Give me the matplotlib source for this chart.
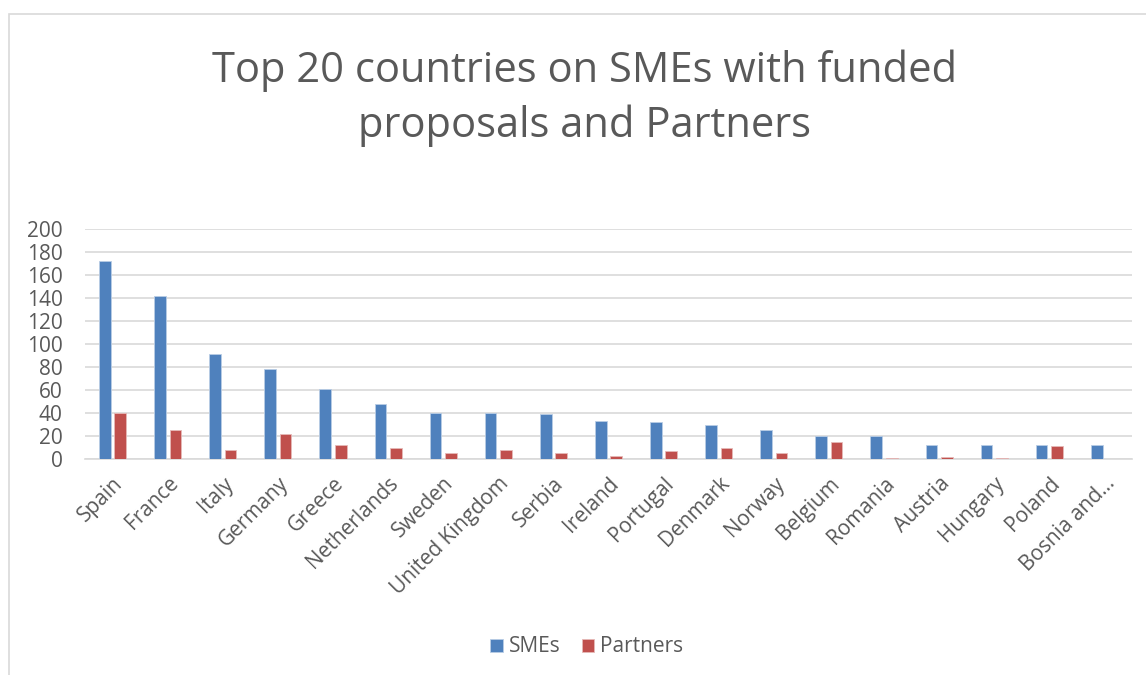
import matplotlib
matplotlib.use("Agg")
import matplotlib.pyplot as plt
import numpy as np
from matplotlib.patches import Rectangle

countries = ["Spain", "France", "Italy", "Germany", "Greece", "Netherlands", "Sweden",
             "United Kingdom", "Serbia", "Ireland", "Portugal", "Denmark", "Norway",
             "Belgium", "Romania", "Austria", "Hungary", "Poland", "Bosnia and..."]
smes = [172, 142, 91, 78, 61, 48, 40, 40, 39, 33, 32, 30, 25, 20, 20, 12, 12, 12, 12]
partners = [40, 25, 8, 22, 12, 10, 5, 8, 5, 3, 7, 10, 5, 15, 1, 2, 1, 11, 0]
yticks = [0, 20, 40, 60, 80, 100, 120, 140, 160, 180, 200]
title = "Top 20 countries on SMEs with funded\nproposals and Partners"

plt.rcParams['font.family'] = ['Open Sans', 'DejaVu Sans']
txt = "#595959"
W, H = 1146, 675
fig = plt.figure(figsize=(W / 100, H / 100), dpi=100)

# chart border
fig.patches.append(Rectangle((9 / W, -0.1), 1.2, 1 - 13.5 / H + 0.1, transform=fig.transFigure,
                             fill=False, edgecolor="#D9D9D9", linewidth=1.2))

ax = fig.add_axes([85 / W, 1 - 459 / H, (1132 - 85) / W, (459 - 229) / H])
x = np.arange(len(countries))
bw = 0.212
gap = 0.067
ax.bar(x - (bw + gap) / 2, smes, bw, color="#4F81BD", edgecolor="#B9CDE5", linewidth=0.6,
       label="SMEs", zorder=3)
ax.bar(x + (bw + gap) / 2, partners, bw, color="#C0504D", edgecolor="#E6B9B8", linewidth=0.6,
       label="Partners", zorder=3)

ax.set_xlim(-0.5, len(countries) - 0.5)
ax.set_ylim(0, 200)
ax.set_yticks(yticks)
ax.set_yticklabels([str(v) for v in yticks], fontsize=15, color=txt)
ax.yaxis.grid(True, color="#D9D9D9", linewidth=1.2, zorder=0)
ax.set_xticks(x)
ax.set_xticklabels(countries, rotation=45, ha="right", rotation_mode="anchor",
                   fontsize=15, color=txt)
ax.tick_params(axis="both", length=0)
ax.tick_params(axis="y", pad=16)
ax.tick_params(axis="x", pad=10)
for s in ["top", "right", "left"]:
    ax.spines[s].set_visible(False)
ax.spines["bottom"].set_color("#D9D9D9")
ax.spines["bottom"].set_linewidth(1.2)

fig.text(585 / W, 1 - 98 / H, title, ha="center", va="center", fontsize=30, color=txt,
         linespacing=1.4)

fig.legend(loc="center", bbox_to_anchor=(587 / W, 1 - 647 / H), ncol=2, frameon=False,
           fontsize=15, handlelength=0.6, handleheight=0.6, columnspacing=1.0,
           handletextpad=0.3, labelcolor=txt)

fig.savefig("out.png", dpi=100)
